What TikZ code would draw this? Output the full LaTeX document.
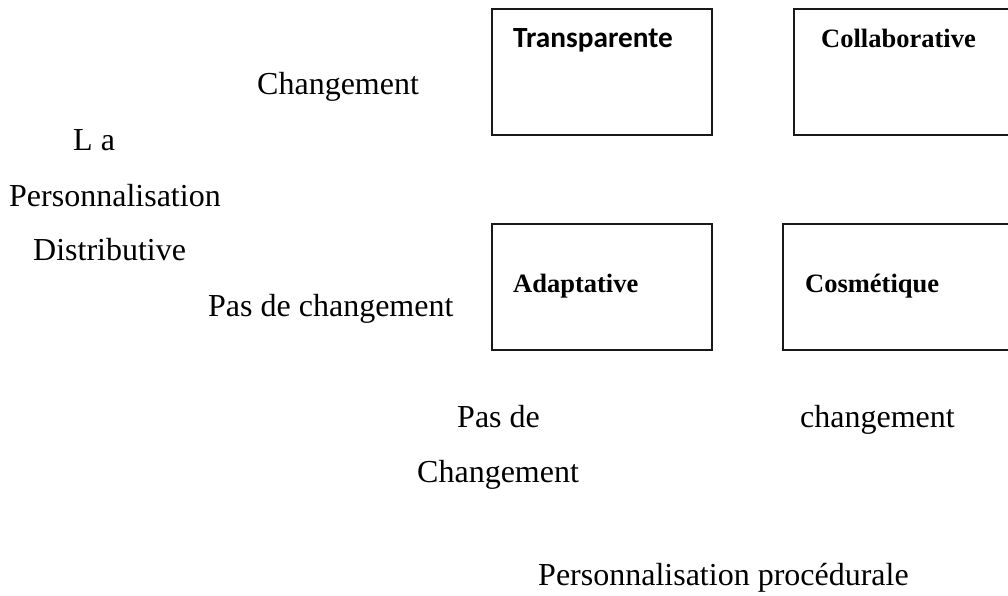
\documentclass[tikz,border=0pt]{standalone}
\usepackage{fontspec}
\setmainfont{Liberation Serif}
\newfontfamily\carl{Carlito}
\begin{document}
\begin{tikzpicture}[x=1pt,y=-1pt,
  txt/.style={anchor=base west,inner sep=0pt,font=\fontsize{32}{38}\selectfont},
  btxt/.style={anchor=base west,inner sep=0pt,font=\fontsize{26.5}{32}\selectfont\bfseries},
  ctxt/.style={anchor=base west,inner sep=0pt,font=\fontsize{29.3}{34}\selectfont\carl\bfseries},
  boxnode/.style={draw=black!90,line width=1.6pt,anchor=north west,inner sep=0pt,outer sep=0pt}
]
\useasboundingbox (0,0) rectangle (1008,596);
\clip (0,0) rectangle (1008,596);
% boxes
\node[boxnode,minimum width=220pt,minimum height=126pt] (btr) at (492,9) {};
\node[boxnode,minimum width=230pt,minimum height=126pt] (bco) at (794,9) {};
\node[boxnode,minimum width=220pt,minimum height=126pt] (bad) at (492,224) {};
\node[boxnode,minimum width=240pt,minimum height=126pt] (bcs) at (783,224) {};
% box labels
\node[ctxt] (ltr) at (513,48) {Transparente};
\node[btxt] (lco) at (821,48) {Collaborative};
\node[btxt] (lad) at (513,292) {Adaptative};
\node[btxt] (lcs) at (805,292) {Cosmétique};
% free texts
\node[txt] (t1) at (257,95) {Changement};
\node[txt] (t2) at (73,151) {L a};
\node[txt] (t3) at (9,206) {Personnalisation};
\node[txt] (t4) at (33,260) {Distributive};
\node[txt] (t5) at (208,316) {Pas de changement};
\node[txt] (t6) at (457,427) {Pas de};
\node[txt] (t7) at (800,427) {changement};
\node[txt] (t8) at (417,482) {Changement};
\node[txt] (t9) at (538,585) {Personnalisation procédurale};
\end{tikzpicture}
\end{document}
